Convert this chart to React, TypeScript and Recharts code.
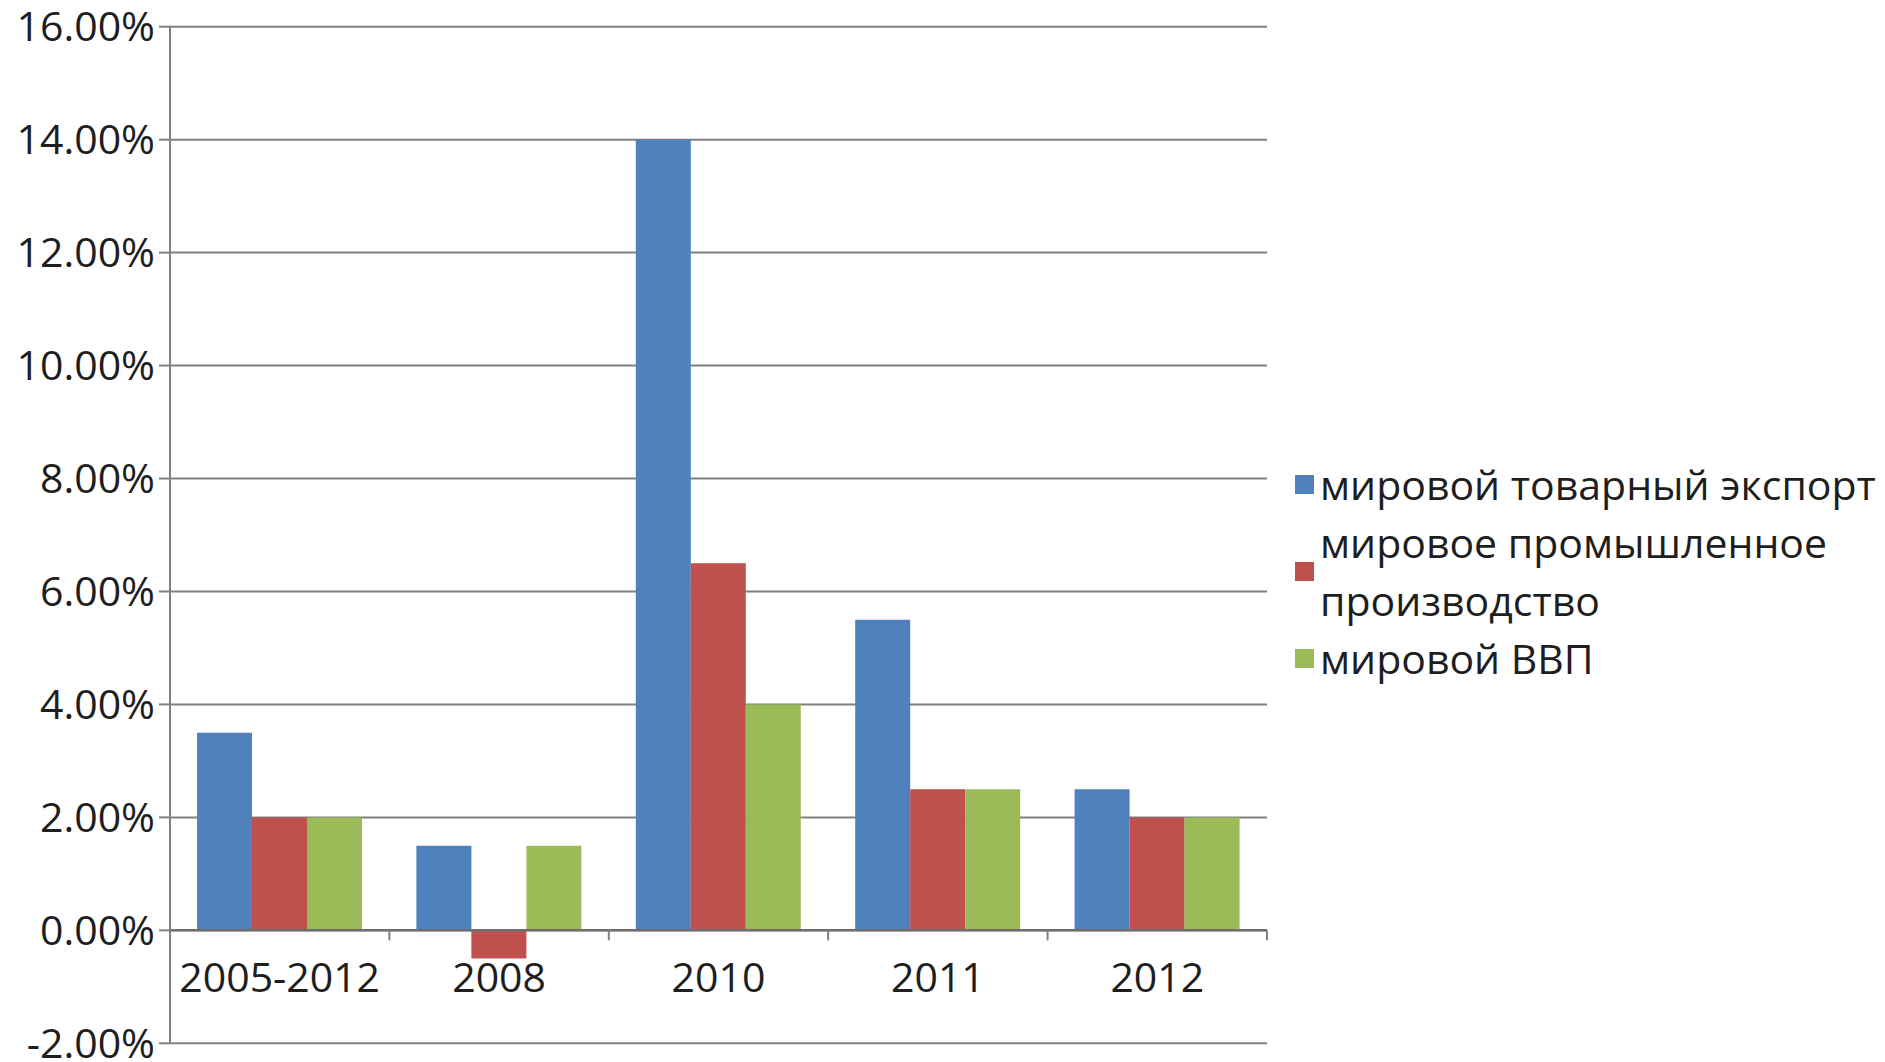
import React from 'react';
import { BarChart, Bar, XAxis, YAxis, CartesianGrid, ReferenceLine, Legend } from 'recharts';

const categories = ['2005-2012', '2008', '2010', '2011', '2012'];
const exportValues = [3.5, 1.5, 14, 5.5, 2.5];
const industryValues = [2, -0.5, 6.5, 2.5, 2];
const gdpValues = [2, 1.5, 4, 2.5, 2];
const yTicks = [-2, 0, 2, 4, 6, 8, 10, 12, 14, 16];
const seriesNames = ['мировой товарный экспорт', 'мировое промышленное производство', 'мировой ВВП'];
const seriesColors = ['#4F81BD', '#C0504D', '#9BBB59'];

const data = categories.map((c, i) => ({
  category: c,
  exp: exportValues[i],
  ind: industryValues[i],
  gdp: gdpValues[i],
}));

const W = 1885;
const H = 1062;
const X_AXIS_H = 2;
const MARGIN = { top: 26.7, right: 618, bottom: 16.7, left: 0 };
const Y_AXIS_W = 170;
const PLOT_LEFT = MARGIN.left + Y_AXIS_W;
const PLOT_RIGHT = W - MARGIN.right;
const PLOT_TOP = MARGIN.top;
const PLOT_BOTTOM = H - MARGIN.bottom - X_AXIS_H;
const Y_MIN = yTicks[0];
const Y_MAX = yTicks[yTicks.length - 1];
const ZERO_Y = PLOT_TOP + ((Y_MAX - 0) / (Y_MAX - Y_MIN)) * (PLOT_BOTTOM - PLOT_TOP);
const BAND = (PLOT_RIGHT - PLOT_LEFT) / categories.length;
const AXIS_COLOR = '#808080';
const TEXT_COLOR = '#1e1e1e';
const FONT = 41;

const CategoryTick = (props: any) => {
  const { x, payload, index } = props;
  const half = BAND / 2;
  return (
    <g>
      <line x1={x - half} x2={x - half} y1={ZERO_Y} y2={ZERO_Y + 10} stroke={AXIS_COLOR} strokeWidth={2} />
      {index === categories.length - 1 && (
        <line x1={x + half} x2={x + half} y1={ZERO_Y} y2={ZERO_Y + 10} stroke={AXIS_COLOR} strokeWidth={2} />
      )}
      <text x={x} y={ZERO_Y + 46} textAnchor="middle" dominantBaseline="central" fill={TEXT_COLOR} fontSize={FONT}>
        {payload.value}
      </text>
    </g>
  );
};

const LegendContent = () => (
  <div style={{ fontSize: 41, lineHeight: '58px', color: TEXT_COLOR, width: 590 }}>
    {seriesNames.map((name, i) => (
      <div key={name} style={{ display: 'flex', alignItems: 'center' }}>
        <div style={{ width: 19, height: 19, background: seriesColors[i], flex: '0 0 19px', marginRight: 6 }} />
        <div style={{ width: 565 }}>{name}</div>
      </div>
    ))}
  </div>
);

export default function App() {
  return (
    <div
      style={{
        position: 'absolute',
        left: 0,
        top: 0,
        width: W,
        height: H,
        overflow: 'hidden',
        background: '#ffffff',
        fontFamily: '"Open Sans", sans-serif',
      }}
    >
      <BarChart width={W} height={H} data={data} margin={MARGIN} barGap={0} barCategoryGap="12.3%">
        <CartesianGrid vertical={false} stroke={AXIS_COLOR} strokeWidth={2} />
        <XAxis
          dataKey="category"
          height={X_AXIS_H}
          axisLine={false}
          tickLine={false}
          interval={0}
          tick={(p: any) => <CategoryTick {...p} />}
        />
        <YAxis
          width={Y_AXIS_W}
          domain={[Y_MIN, Y_MAX]}
          ticks={yTicks}
          interval={0}
          tickFormatter={(v: number) => `${v.toFixed(2)}%`}
          axisLine={{ stroke: AXIS_COLOR, strokeWidth: 2 }}
          tickLine={{ stroke: AXIS_COLOR, strokeWidth: 2 }}
          tickSize={11}
          tickMargin={4}
          tick={{ fill: TEXT_COLOR, fontSize: FONT }}
        />
        <ReferenceLine y={0} stroke="#6e6e6e" strokeWidth={2.5} />
        <Bar dataKey="exp" name={seriesNames[0]} fill={seriesColors[0]} isAnimationActive={false} />
        <Bar dataKey="ind" name={seriesNames[1]} fill={seriesColors[1]} isAnimationActive={false} />
        <Bar dataKey="gdp" name={seriesNames[2]} fill={seriesColors[2]} isAnimationActive={false} />
        <Legend
          layout="vertical"
          align="center"
          verticalAlign="middle"
          wrapperStyle={{ left: 1295, top: 455, width: 590 }}
          content={<LegendContent />}
        />
      </BarChart>
    </div>
  );
}
